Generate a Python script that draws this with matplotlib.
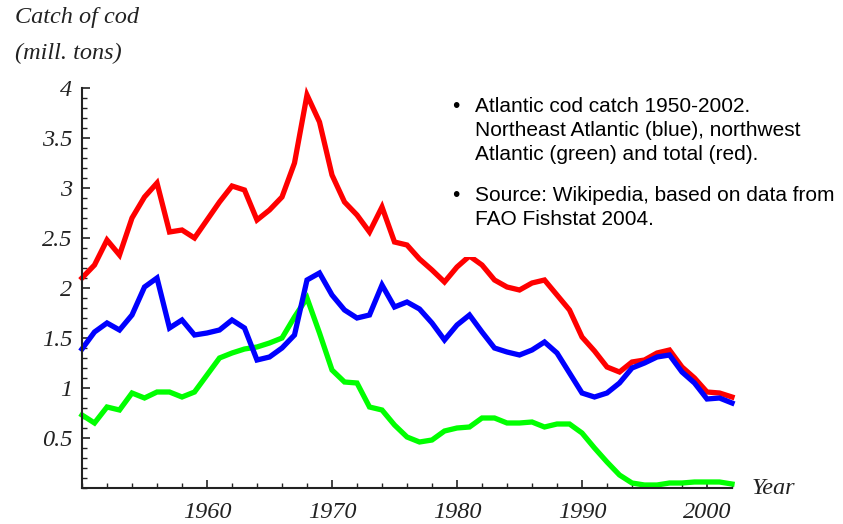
import numpy as np
import matplotlib.pyplot as plt
from matplotlib.ticker import MultipleLocator

years = np.arange(1950, 2003)

total = [2.10, 2.23, 2.48, 2.33, 2.70, 2.91, 3.05, 2.56, 2.58, 2.50,
         2.68, 2.86, 3.02, 2.98, 2.68, 2.78, 2.91, 3.25, 3.93, 3.66,
         3.13, 2.86, 2.73, 2.56, 2.81, 2.46, 2.43, 2.29, 2.18, 2.06,
         2.21, 2.32, 2.23, 2.08, 2.01, 1.98, 2.05, 2.08, 1.93, 1.78,
         1.51, 1.37, 1.21, 1.16, 1.26, 1.28, 1.35, 1.38, 1.21, 1.10,
         0.96, 0.95, 0.91]

northeast = [1.39, 1.56, 1.65, 1.58, 1.73, 2.01, 2.10, 1.60, 1.68, 1.53,
             1.55, 1.58, 1.68, 1.60, 1.28, 1.31, 1.40, 1.53, 2.08, 2.15,
             1.93, 1.78, 1.70, 1.73, 2.03, 1.81, 1.86, 1.79, 1.65, 1.48,
             1.63, 1.73, 1.56, 1.40, 1.36, 1.33, 1.38, 1.46, 1.35, 1.15,
             0.95, 0.91, 0.95, 1.05, 1.20, 1.25, 1.31, 1.33, 1.16, 1.05,
             0.89, 0.90, 0.85]

northwest = [0.73, 0.65, 0.81, 0.78, 0.95, 0.90, 0.96, 0.96, 0.91, 0.96,
             1.13, 1.30, 1.35, 1.39, 1.41, 1.45, 1.50, 1.71, 1.90, 1.55,
             1.18, 1.06, 1.05, 0.81, 0.78, 0.63, 0.51, 0.46, 0.48, 0.57,
             0.60, 0.61, 0.70, 0.70, 0.65, 0.65, 0.66, 0.61, 0.64, 0.64,
             0.55, 0.40, 0.26, 0.13, 0.05, 0.03, 0.03, 0.05, 0.05, 0.06,
             0.06, 0.06, 0.04]

W, H = 843, 524
fig = plt.figure(figsize=(W / 100, H / 100), dpi=100)
ax = fig.add_axes([82 / W, 1 - 488 / H, 650 / W, 400 / H])

lw = 3.8
ax.plot(years, total, color='#ff0000', lw=lw, clip_on=False, solid_joinstyle='miter')
ax.plot(years, northwest, color='#00ff00', lw=lw, clip_on=False, solid_joinstyle='miter')
ax.plot(years, northeast, color='#0000ff', lw=lw, clip_on=False, solid_joinstyle='miter')

ax.set_xlim(1950, 2002)
ax.set_ylim(0, 4.0)
for s in ['top', 'right']:
    ax.spines[s].set_visible(False)
for s in ['left', 'bottom']:
    ax.spines[s].set_linewidth(1.5)
    ax.spines[s].set_color('#222222')

ax.xaxis.set_major_locator(MultipleLocator(10))
ax.xaxis.set_minor_locator(MultipleLocator(2))
ax.yaxis.set_major_locator(MultipleLocator(0.5))
ax.yaxis.set_minor_locator(MultipleLocator(0.1))
ax.tick_params(which='major', direction='in', length=6, width=1.2, color='#222222')
ax.tick_params(which='minor', direction='in', length=3.5, width=1.0, color='#222222')
ax.tick_params(axis='x', pad=10)
ax.tick_params(axis='y', pad=7)

serif = dict(family='Liberation Serif', style='italic', size=17.5, color='#222222')
ax.set_xticks([1960, 1970, 1980, 1990, 2000])
ax.set_xticklabels(['1960', '1970', '1980', '1990', '2000'], fontdict=serif)
yt = [0.5, 1, 1.5, 2, 2.5, 3, 3.5, 4]
ax.set_yticks(yt)
ax.set_yticklabels(['0.5', '1', '1.5', '2', '2.5', '3', '3.5', '4'], fontdict=serif)

fig.text(15 / W, 1 - 18 / H, 'Catch of cod', va='center', ha='left', **serif)
fig.text(15 / W, 1 - 53 / H, '(mill. tons)', va='center', ha='left', **serif)
fig.text(752 / W, 1 - 488 / H, 'Year', va='center', ha='left', **serif)

# white box behind the note, covering the lines
fig.patches.append(plt.Rectangle((430 / W, 1 - 257 / H), 413 / W, 197 / H,
                                 transform=fig.transFigure, facecolor='white',
                                 edgecolor='none', zorder=5))

sans = dict(family='Liberation Sans', size=15, color='black', va='baseline', ha='left', zorder=6)
lines1 = ['Atlantic cod catch 1950-2002.',
          'Northeast Atlantic (blue), northwest',
          'Atlantic (green) and total (red).']
lines2 = ['Source: Wikipedia, based on data from',
          'FAO Fishstat 2004.']
for i, t in enumerate(lines1):
    fig.text(475 / W, 1 - (112 + 24 * i) / H, t, **sans)
for i, t in enumerate(lines2):
    fig.text(475 / W, 1 - (201 + 24 * i) / H, t, **sans)
fig.text(452 / W, 1 - 112 / H, '\u2022', **sans)
fig.text(452 / W, 1 - 201 / H, '\u2022', **sans)

fig.savefig('out.png', dpi=100)
